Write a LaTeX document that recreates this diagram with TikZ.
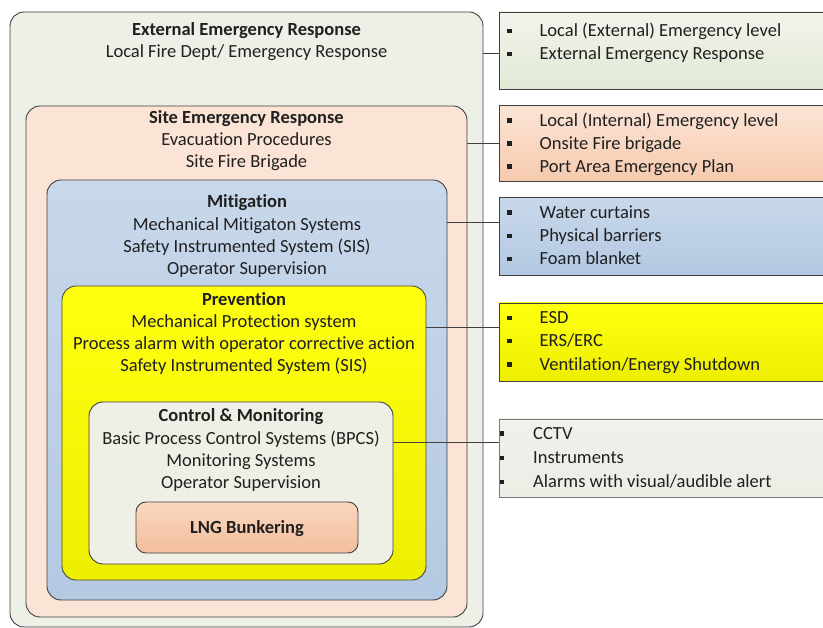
\documentclass[tikz,border=0pt]{standalone}
\usepackage{fontspec}
\setmainfont[Ligatures=NoCommon]{Carlito}
\definecolor{bordc}{HTML}{404040}
\definecolor{textc}{HTML}{202020}
\definecolor{extc}{HTML}{EDF0E6}
\definecolor{sitec}{HTML}{FBE4D5}
\definecolor{mitT}{HTML}{C8D8EB}
\definecolor{mitB}{HTML}{B4C9E2}
\definecolor{prevT}{HTML}{FFFF10}
\definecolor{prevB}{HTML}{EEEE00}
\definecolor{ctrlc}{HTML}{EEF0E6}
\definecolor{lngT}{HTML}{FAD6C0}
\definecolor{lngB}{HTML}{F3BE9C}
\definecolor{rAT}{HTML}{F1F4EC}
\definecolor{rAB}{HTML}{E2E9D5}
\definecolor{rBT}{HTML}{FBE4D6}
\definecolor{rBB}{HTML}{F6CAAE}
\definecolor{rCT}{HTML}{C8D8EB}
\definecolor{rCB}{HTML}{B3C8E1}
\definecolor{rET}{HTML}{F0F1EB}
\definecolor{rEB}{HTML}{ECEDE5}
\begin{document}
\begin{tikzpicture}[x=1pt,y=-1pt,
  box/.style={draw=bordc, line width=0.9pt, rounded corners=14pt, anchor=north west, inner sep=0pt, outer sep=0pt},
  rbox/.style={draw=bordc, line width=0.9pt, anchor=north west, inner sep=0pt, outer sep=0pt},
  txt/.style={font=\fontsize{18.5}{22}\selectfont, text=textc, inner sep=0pt, anchor=base},
  ttl/.style={font=\fontsize{18.5}{22}\selectfont\bfseries, text=textc, inner sep=0pt, anchor=base},
  ltxt/.style={font=\fontsize{18.5}{22}\selectfont, text=textc, inner sep=0pt, anchor=base west},
  bul/.style={fill=textc, minimum size=4.6pt, inner sep=0pt, outer sep=0pt},
  conn/.style={draw=bordc, line width=0.9pt}
]
\useasboundingbox (0,0) rectangle (823,628);
\fill[white] (0,0) rectangle (823,628);

% nested boxes
\node[box, fill=extc, minimum width=473pt, minimum height=615pt] (ext) at (10,12) {};
\node[box, fill=sitec, minimum width=441pt, minimum height=511pt] (site) at (26,106) {};
\node[box, top color=mitT, bottom color=mitB, minimum width=400pt, minimum height=420pt] (mit) at (47,180) {};
\node[box, top color=prevT, bottom color=prevB, draw=black!70!yellow!60!black, minimum width=364pt, minimum height=294pt] (prev) at (62,286) {};
\node[box, fill=ctrlc, minimum width=304pt, minimum height=162pt] (ctrl) at (89,402) {};
\node[box, rounded corners=10pt, top color=lngT, bottom color=lngB, minimum width=222pt, minimum height=51pt] (lng) at (136,502) {};

% texts of nested boxes
\node[ttl] (extT) at (ext.north |- 0,35.5) {External Emergency Response};
\node[txt] (extL1) at (ext.north |- 0,58) {Local Fire Dept/ Emergency Response};

\node[ttl] (siteT) at (site.north |- 0,124) {Site Emergency Response};
\node[txt] (siteL1) at (site.north |- 0,146) {Evacuation Procedures};
\node[txt] (siteL2) at (site.north |- 0,168) {Site Fire Brigade};

\node[ttl] (mitT) at (mit.north |- 0,208) {Mitigation};
\node[txt] (mitL1) at (mit.north |- 0,231) {Mechanical Mitigaton Systems};
\node[txt] (mitL2) at (mit.north |- 0,253) {Safety Instrumented System (SIS)};
\node[txt] (mitL3) at (mit.north |- 0,275) {Operator Supervision};

\node[ttl] (prevT) at (prev.north |- 0,305.5) {Prevention};
\node[txt] (prevL1) at (prev.north |- 0,328) {Mechanical Protection system};
\node[txt] (prevL2) at (prev.north |- 0,350) {Process alarm with operator corrective action};
\node[txt] (prevL3) at (prev.north |- 0,372) {Safety Instrumented System (SIS)};

\node[ttl] (ctrlT) at (ctrl.north |- 0,421.5) {Control \& Monitoring};
\node[txt] (ctrlL1) at (ctrl.north |- 0,444.5) {Basic Process Control Systems (BPCS)};
\node[txt] (ctrlL2) at (ctrl.north |- 0,466.5) {Monitoring Systems};
\node[txt] (ctrlL3) at (ctrl.north |- 0,488.5) {Operator Supervision};

\node[ttl] (lngT) at (lng.north |- 0,534) {LNG Bunkering};

% right boxes
\node[rbox, top color=rAT, bottom color=rAB, minimum width=330pt, minimum height=77pt] (r1) at (499,12) {};
\node[rbox, top color=rBT, bottom color=rBB, minimum width=330pt, minimum height=76pt] (r2) at (499,105.5) {};
\node[rbox, top color=rCT, bottom color=rCB, minimum width=330pt, minimum height=77.5pt] (r3) at (499,197.5) {};
\node[rbox, top color=prevT, bottom color=prevB, minimum width=330pt, minimum height=78pt] (r4) at (499,303) {};
\node[rbox, top color=rET, bottom color=rEB, draw=bordc!70, minimum width=330pt, minimum height=78pt] (r5) at (499,419) {};

% right box items
\foreach \nm/\yy/\tx in {a1/37/{Local (External) Emergency level}, a2/60/{External Emergency Response},
  b1/126.5/{Local (Internal) Emergency level}, b2/149.5/{Onsite Fire brigade}, b3/172.5/{Port Area Emergency Plan},
  c1/218.5/{Water curtains}, c2/242/{Physical barriers}, c3/265/{Foam blanket},
  d1/324/{ESD}, d2/347/{ERS/ERC}, d3/370.5/{Ventilation/Energy Shutdown}}{
  \node[bul] (bu\nm) at (509.5,\yy-6) {};
  \node[ltxt] (it\nm) at (539.5,\yy) {\tx};
}
\foreach \nm/\yy/\tx in {e1/439.5/{CCTV}, e2/464/{Instruments}, e3/488/{Alarms with visual/audible alert}}{
  \node[bul] (bu\nm) at (502,\yy-6) {};
  \node[ltxt] (it\nm) at (533,\yy) {\tx};
}

% connectors
\coordinate (k1) at (0,53);
\coordinate (k2) at (0,143);
\coordinate (k3) at (0,222);
\coordinate (k4) at (0,327);
\coordinate (k5) at (0,442.5);
\draw[conn] (ext.east |- k1) -- (r1.west |- k1);
\draw[conn] (site.east |- k2) -- (r2.west |- k2);
\draw[conn] (mit.east |- k3) -- (r3.west |- k3);
\draw[conn] (prev.east |- k4) -- (r4.west |- k4);
\draw[conn] (ctrl.east |- k5) -- (r5.west |- k5);
\end{tikzpicture}
\end{document}
